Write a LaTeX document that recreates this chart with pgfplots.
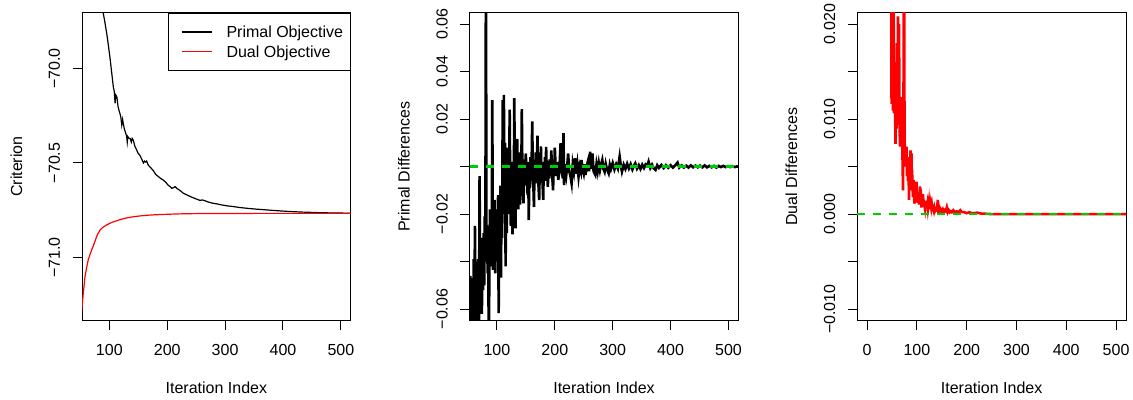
\documentclass[border=0pt]{standalone}
\usepackage{pgfplots}
\pgfplotsset{compat=1.18}
\usepackage{fontspec}
\setmainfont{Liberation Sans}
\definecolor{rgreen}{RGB}{0,205,0}
\definecolor{rred}{RGB}{255,0,0}
\pgfplotsset{
  rbase/.style={
    scale only axis, width=134.4pt, height=153.9pt,
    axis line style={line width=0.5pt},
    every tick/.style={black, line width=0.5pt},
    tick align=outside, major tick length=4.6pt,
    xtick pos=bottom, ytick pos=left,
    scaled ticks=false,
    tick label style={font=\fontsize{8}{9.6}\selectfont, inner sep=0pt},
    xticklabel style={anchor=base},
    yticklabel style={rotate=90, anchor=base},
    xticklabel shift=12.9pt, yticklabel shift=6.4pt,
    label style={font=\fontsize{8}{9.6}\selectfont, inner sep=0pt},
    xlabel style={at={(axis description cs:0.5,0)}, anchor=base, yshift=-36.75pt},
    ylabel style={at={(axis description cs:-0.2232,0.5)}, anchor=base},
    xlabel={Iteration Index},
    clip=true,
  }
}
\begin{document}
\begin{tikzpicture}
\path[use as bounding box] (0,0) rectangle (566.5pt,200pt);
% ---------- Panel 1 ----------
\begin{axis}[rbase, at={(41pt,39.75pt)}, anchor=south west,
  xmin=52.8, xmax=517.2, ymin=-71.332, ymax=-69.706,
  xtick={100,200,300,400,500},
  xticklabels={100,200,300,400,500},
  ytick={-71,-70.5,-70}, yticklabels={−71.0,−70.5,−70.0},
  ylabel={Criterion},
  legend style={at={(rel axis cs:1,1)}, anchor=north east, draw=black, line width=0.5pt,
    font=\fontsize{8}{9.6}\selectfont, inner xsep=3.65pt, inner ysep=6.45pt,
    row sep=4.1pt, column sep=0pt,
    nodes={inner sep=0pt, text height=5.73pt, text depth=0pt}},
  legend cell align=left,
  legend image code/.code={\path[draw=none,fill=none] (0pt,-2pt) rectangle (25.55pt,2pt); \draw[#1, line width=0.9pt] (3.05pt,0pt) -- (18.35pt,0pt);},
]
\addplot[black, line width=0.6pt] coordinates {
(45,-68.75) (52,-68.95) (60,-69.15) (70,-69.38) (80,-69.56) (86,-69.65) (89.6,-69.71) (92,-69.75) (95.5,-69.815) (98,-69.87) (101,-69.94) (104,-70.02) (107,-70.10) (108.5,-70.12) (110,-70.185) (111,-70.14) (113,-70.15) (115,-70.20) (116.5,-70.22) (118.5,-70.24) (120,-70.26) (121.5,-70.30) (123,-70.27) (124,-70.29) (126,-70.32) (128,-70.34) (130,-70.36) (131,-70.39) (132,-70.36) (134,-70.37) (136,-70.37) (138,-70.39) (139.5,-70.37) (141.5,-70.38) (144,-70.41) (147,-70.43) (150,-70.45) (153,-70.46) (156,-70.48) (159,-70.50) (161,-70.49) (163,-70.495) (164.6,-70.49) (167,-70.51) (170,-70.52) (173,-70.53) (176,-70.54) (180,-70.56) (184,-70.57) (188,-70.58) (193,-70.59) (197,-70.60) (201,-70.615) (205,-70.625) (208,-70.634) (211,-70.63) (213.6,-70.625) (217,-70.635) (222,-70.645) (228,-70.66) (235,-70.67) (242,-70.68) (250,-70.69) (257,-70.698) (260,-70.695) (263,-70.697) (270,-70.705) (278,-70.712) (285.6,-70.716) (295,-70.722) (305,-70.727) (314,-70.73) (325,-70.735) (340,-70.740) (355,-70.744) (372,-70.748) (390,-70.752) (410,-70.756) (430,-70.759) (450,-70.761) (470,-70.763) (490,-70.764) (510,-70.765) (525,-70.766)
};
\addlegendentry{Primal Objective}
\addplot[rred, line width=0.6pt] coordinates {
(48,-71.40) (52,-71.29) (55,-71.19) (58,-71.10) (61,-71.05) (63.7,-71.01) (67,-70.98) (70,-70.955) (72,-70.94) (75,-70.915) (78,-70.89) (80,-70.875) (82,-70.865) (84,-70.854) (88,-70.842) (92,-70.834) (95.5,-70.827) (100,-70.82) (106,-70.812) (113,-70.805) (120,-70.798) (130,-70.79) (141.5,-70.784) (155,-70.779) (170,-70.775) (190,-70.772) (210,-70.770) (230,-70.768) (260,-70.767) (300,-70.7665) (400,-70.766) (525,-70.766)
};
\addlegendentry{Dual Objective}
\end{axis}
% ---------- Panel 2 ----------
\begin{axis}[rbase, at={(234.8pt,39.75pt)}, anchor=south west,
  xmin=52.8, xmax=517.2, ymin=-0.0648, ymax=0.0648,
  xtick={100,200,300,400,500},
  xticklabels={100,200,300,400,500},
  ytick={-0.06,-0.04,-0.02,0,0.02,0.04,0.06},
  yticklabels={−0.06,{},−0.02,{},0.02,0.04,0.06},
  ylabel={Primal Differences},
]
\addplot[black, line width=1.3pt] coordinates {
(50,-0.060) (52,-0.050) (53,-0.070) (54,-0.046) (55,-0.066) (56,-0.052) (57,-0.072) (58,-0.047) (59,-0.060) (60,-0.039) (61,-0.068) (62,-0.025) (63,-0.055) (64,-0.044) (65,-0.070) (66,-0.040) (67,-0.058) (68,-0.039) (69,-0.072) (70,-0.004) (71,-0.048) (72,-0.030) (73,-0.040) (74,-0.062) (75,-0.033) (76,-0.052) (77,-0.028) (78,-0.050) (79,-0.021) (80,-0.040) (81,0.090) (82,-0.038) (83,-0.025) (84,-0.045) (85,-0.030) (86,-0.085) (87,-0.038) (88,-0.018) (89,-0.042) (90,-0.020) (91,-0.035) (92,0.028) (93,-0.0435) (94,-0.020) (95,-0.035) (96,-0.014) (97,-0.045) (98,-0.022) (99,-0.040) (100,-0.018) (101,-0.030) (102,-0.012) (103,-0.0617) (104,-0.020) (105,-0.035) (106,-0.008) (107,-0.0467) (108,-0.010) (109,-0.030) (110,0.028) (111,-0.020) (112,0.0302) (113,-0.015) (114,0.010) (115,-0.042) (116,-0.005) (117,-0.028) (118,0.008) (119,-0.020) (120,0.005) (121,-0.012) (122,0.024) (123,-0.010) (124,-0.025) (125,0.002) (126,-0.015) (127,-0.0285) (128,-0.002) (129,-0.018) (130,0.0288) (131,-0.008) (132,-0.026) (133,0.004) (134,-0.012) (135,0.0117) (136,-0.005) (137,-0.018) (138,0.006) (139,-0.010) (140,-0.016) (141,0.002) (142,-0.008) (143,0.0242) (144,-0.004) (145,-0.012) (146,-0.0155) (147,0.003) (148,-0.006) (149,0.001) (150,0.0055) (151,-0.008) (152,-0.004) (153,-0.012) (154,0.002) (155,-0.0225) (156,-0.003) (157,-0.009) (158,0.004) (159,-0.006) (160,0.002) (161,0.019) (162,-0.004) (163,-0.008) (164,-0.017) (165,0.001) (166,-0.005) (167,0.006) (168,-0.007) (169,-0.002) (170,0.013) (171,-0.003) (172,-0.009) (173,-0.0141) (174,0.000) (175,-0.004) (176,0.0085) (177,-0.005) (178,-0.001) (179,-0.008) (180,-0.014) (181,0.002) (182,-0.003) (183,0.004) (184,-0.006) (185,0.0083) (186,-0.002) (187,-0.004) (188,-0.0085) (189,0.001) (190,-0.005) (191,0.003) (192,-0.004) (193,0.000) (194,0.0068) (195,-0.003) (196,-0.006) (197,-0.010) (198,0.001) (199,-0.003) (200,0.008) (202,-0.004) (204,0.002) (206,-0.0056) (208,-0.001) (210,0.0099) (212,-0.002) (214,-0.005) (215,0.0141) (216,-0.0078) (218,0.001) (220,-0.003) (222,0.002) (223,0.0055) (225,-0.002) (227,-0.004) (229,-0.007) (231,0.001) (233,-0.002) (235,0.0035) (237,-0.003) (239,0.001) (241,-0.0042) (243,0.000) (245,-0.002) (246,0.0028) (248,-0.001) (250,-0.0030) (252,0.001) (253,-0.0035) (255,0.000) (257,0.002) (259,-0.002) (261,0.0063) (263,-0.001) (265,0.0055) (267,-0.002) (270,-0.0035) (272,0.001) (274,-0.002) (276,0.0015) (278,-0.0015) (280,0.001) (282,0.0028) (284,-0.001) (286,-0.0022) (288,0.0012) (290,-0.001) (293,-0.0028) (295,0.0008) (297,-0.001) (300,0.0015) (303,-0.0012) (306,0.001) (309,-0.0008) (312,0.0042) (314,0.0005) (316,-0.0021) (319,0.0008) (322,-0.0010) (325,0.0012) (328,-0.0008) (331,0.0010) (334,-0.0012) (337,0.0006) (339,0.0014) (342,-0.0008) (345,0.0006) (348,-0.0010) (351,0.0008) (354,-0.0006) (357,0.0010) (360,0.0005) (362,0.0021) (365,-0.0006) (368,0.0008) (371,-0.0008) (374,-0.0014) (377,0.0006) (380,-0.0005) (384,0.0007) (388,-0.0006) (392,0.0006) (396,-0.0005) (400,0.0006) (404,-0.0004) (408,0.0005) (412,0.0017) (415,-0.0004) (419,0.0005) (423,-0.0004) (427,0.0004) (431,-0.0004) (435,0.0005) (439,-0.0003) (443,0.0004) (447,-0.0003) (451,0.0004) (455,-0.0003) (459,0.0005) (463,-0.0003) (467,0.0003) (471,-0.0003) (475,0.0003) (479,-0.0004) (483,0.0003) (487,-0.0002) (491,0.0003) (495,-0.0002) (499,0.0002) (503,-0.0002) (507,0.0002) (511,-0.0002) (515,0.0001) (520,-0.0001)
};
\addplot[rgreen, line width=1.3pt, dash pattern=on 4pt off 4pt] coordinates {(52.8,0) (517.2,0)};
\end{axis}
% ---------- Panel 3 ----------
\begin{axis}[rbase, at={(428.6pt,39.75pt)}, anchor=south west,
  xmin=-20, xmax=520, ymin=-0.0112, ymax=0.0212,
  xtick={0,100,200,300,400,500},
  xticklabels={0,100,200,300,400,500},
  ytick={-0.01,-0.005,0,0.005,0.01,0.015,0.02},
  yticklabels={−0.010,{},0.000,{},0.010,{},0.020},
  ylabel={Dual Differences},
]
\addplot[rred, line width=1.3pt] coordinates {
(48,0.035) (49,0.0116) (50,0.028) (51,0.0125) (52,0.0109) (53,0.024) (54,0.0106) (55,0.016) (56,0.0115) (57,0.0074) (58,0.013) (59,0.0090) (60,0.018) (61,0.0100) (62,0.0208) (63,0.0120) (64,0.0200) (65,0.0095) (66,0.0071) (67,0.0110) (68,0.0085) (69,0.0123) (70,0.0080) (71,0.0060) (72,0.0025) (73,0.0120) (74,0.035) (75,0.0090) (76,0.0050) (77,0.0068) (78,0.0055) (79,0.0071) (80,0.0040) (81,0.0060) (82,0.0035) (83,0.0055) (84,0.0015) (85,0.0045) (86,0.0030) (87,0.0067) (88,0.0025) (89,0.0064) (90,0.0030) (91,0.0033) (92,0.0018) (93,0.0036) (94,0.0020) (95,0.0011) (96,0.0028) (97,0.0016) (98,0.0025) (99,0.0034) (100,0.0012) (101,0.0020) (102,0.0015) (103,0.0022) (104,0.0010) (105,0.0018) (106,0.0029) (107,0.0012) (108,0.0016) (109,0.0007) (110,0.0014) (111,0.0010) (112,0.0021) (113,0.0008) (114,0.0012) (115,0.0009) (116,0.0006) (117,0.0013) (118,0.0008) (119,0.0014) (120,0.0006) (121,0.0010) (122,0.0005) (123,0.0009) (124,0.0013) (125,0.0006) (126,0.0018) (127,0.0005) (128,0.0010) (129,0.0006) (130,0.0009) (131,0.0004) (132,0.0010) (133,0.0005) (134,0.0003) (135,0.0006) (136,0.0003) (138,0.0005) (140,0.0004) (142,0.0015) (143,0.0004) (145,0.0006) (146,0.0003) (148,0.0005) (150,0.0003) (152,0.0005) (154,0.0002) (156,0.0004) (158,0.0003) (160,0.0007) (162,0.0002) (164,0.0004) (166,0.0002) (168,0.0003) (170,0.0002) (173,0.0004) (176,0.0002) (180,0.0003) (184,0.0002) (187,0.0004) (190,0.0002) (195,0.0002) (200,0.0001) (205,0.0002) (210,0.0001) (215,0.0001) (220,0.00015) (225,0.0001) (230,0.00005) (240,0.00003) (250,0.0) (525,0.0)
};
\addplot[rgreen, line width=1.3pt, dash pattern=on 4pt off 4pt] coordinates {(-20,0) (520,0)};
\end{axis}
\end{tikzpicture}
\end{document}
